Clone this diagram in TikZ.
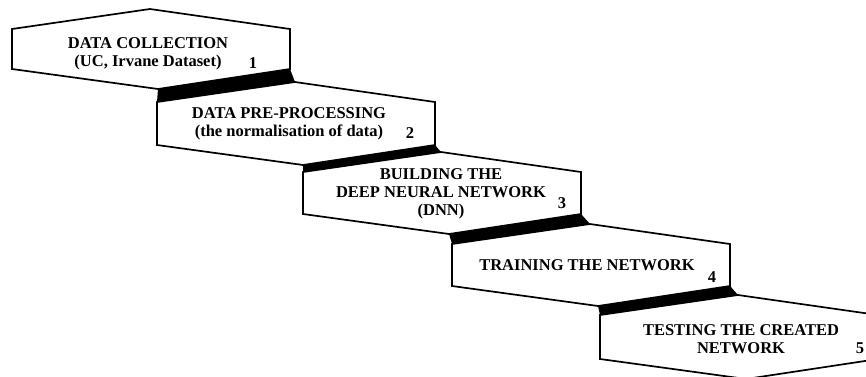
\documentclass[tikz,border=0pt]{standalone}
\usepackage{fontspec}
\setmainfont{Liberation Serif}
\usetikzlibrary{calc}
\tikzset{
  stage/.style={draw=black, line width=1.7pt, fill=white, line join=miter},
  band/.style={fill=black},
  lbl/.style={font=\fontsize{16.5}{18}\selectfont\bfseries, align=center, inner sep=0pt},
  num/.style={font=\fontsize{16.5}{18}\selectfont\bfseries, inner sep=0pt},
}
\newcommand{\stagew}{278}

\begin{document}
\begin{tikzpicture}[x=1pt, y=-1pt]
\useasboundingbox (0,0) rectangle (866,376);

% Corner points of the five stages: index / left x / top y / bottom y.
\foreach \i/\l/\t/\b in {1/12/29/69, 2/157/102/145, 3/303/172/214, 4/452/244/286, 5/600/315/359} {
  \coordinate (tl\i) at (\l, \t);
  \coordinate (tp\i) at (\l+138, \t-20);
  \coordinate (tr\i) at (\l+\stagew, \t);
  \coordinate (br\i) at (\l+\stagew, \b);
  \coordinate (bp\i) at (\l+146, \b+20);
  \coordinate (bl\i) at (\l, \b);
}

% Black steps joining one stage to the next.
\foreach \i/\j in {1/2, 2/3, 3/4, 4/5} {
  \fill[band] (bp\i) -- (br\i) -- (tp\j) -- (tl\j) -- cycle;
}

% The stages themselves.
\foreach \i in {1,...,5} {
  \draw[stage] (tl\i) -- (tp\i) -- (tr\i) -- (br\i) -- (bp\i) -- (bl\i) -- cycle;
}

% Texts and step numbers.
\node[lbl] (collect) at (148, 54) {DATA COLLECTION\\(UC, Irvane Dataset)};
\node[num] (n1) at (253, 63) {1};
\node[lbl] (prep) at (289, 124) {DATA PRE-PROCESSING\\(the normalisation of data)};
\node[num] (n2) at (410, 133) {2};
\node[lbl] (build) at (441, 194) {BUILDING THE\\DEEP NEURAL NETWORK\\(DNN)};
\node[num] (n3) at (562, 203) {3};
\node[lbl] (train) at (587, 265) {TRAINING THE NETWORK};
\node[num] (n4) at (712, 277) {4};
\node[lbl] (test) at (741, 339) {TESTING THE CREATED\\NETWORK};
\node[num] (n5) at (860, 348) {5};

\end{tikzpicture}
\end{document}
